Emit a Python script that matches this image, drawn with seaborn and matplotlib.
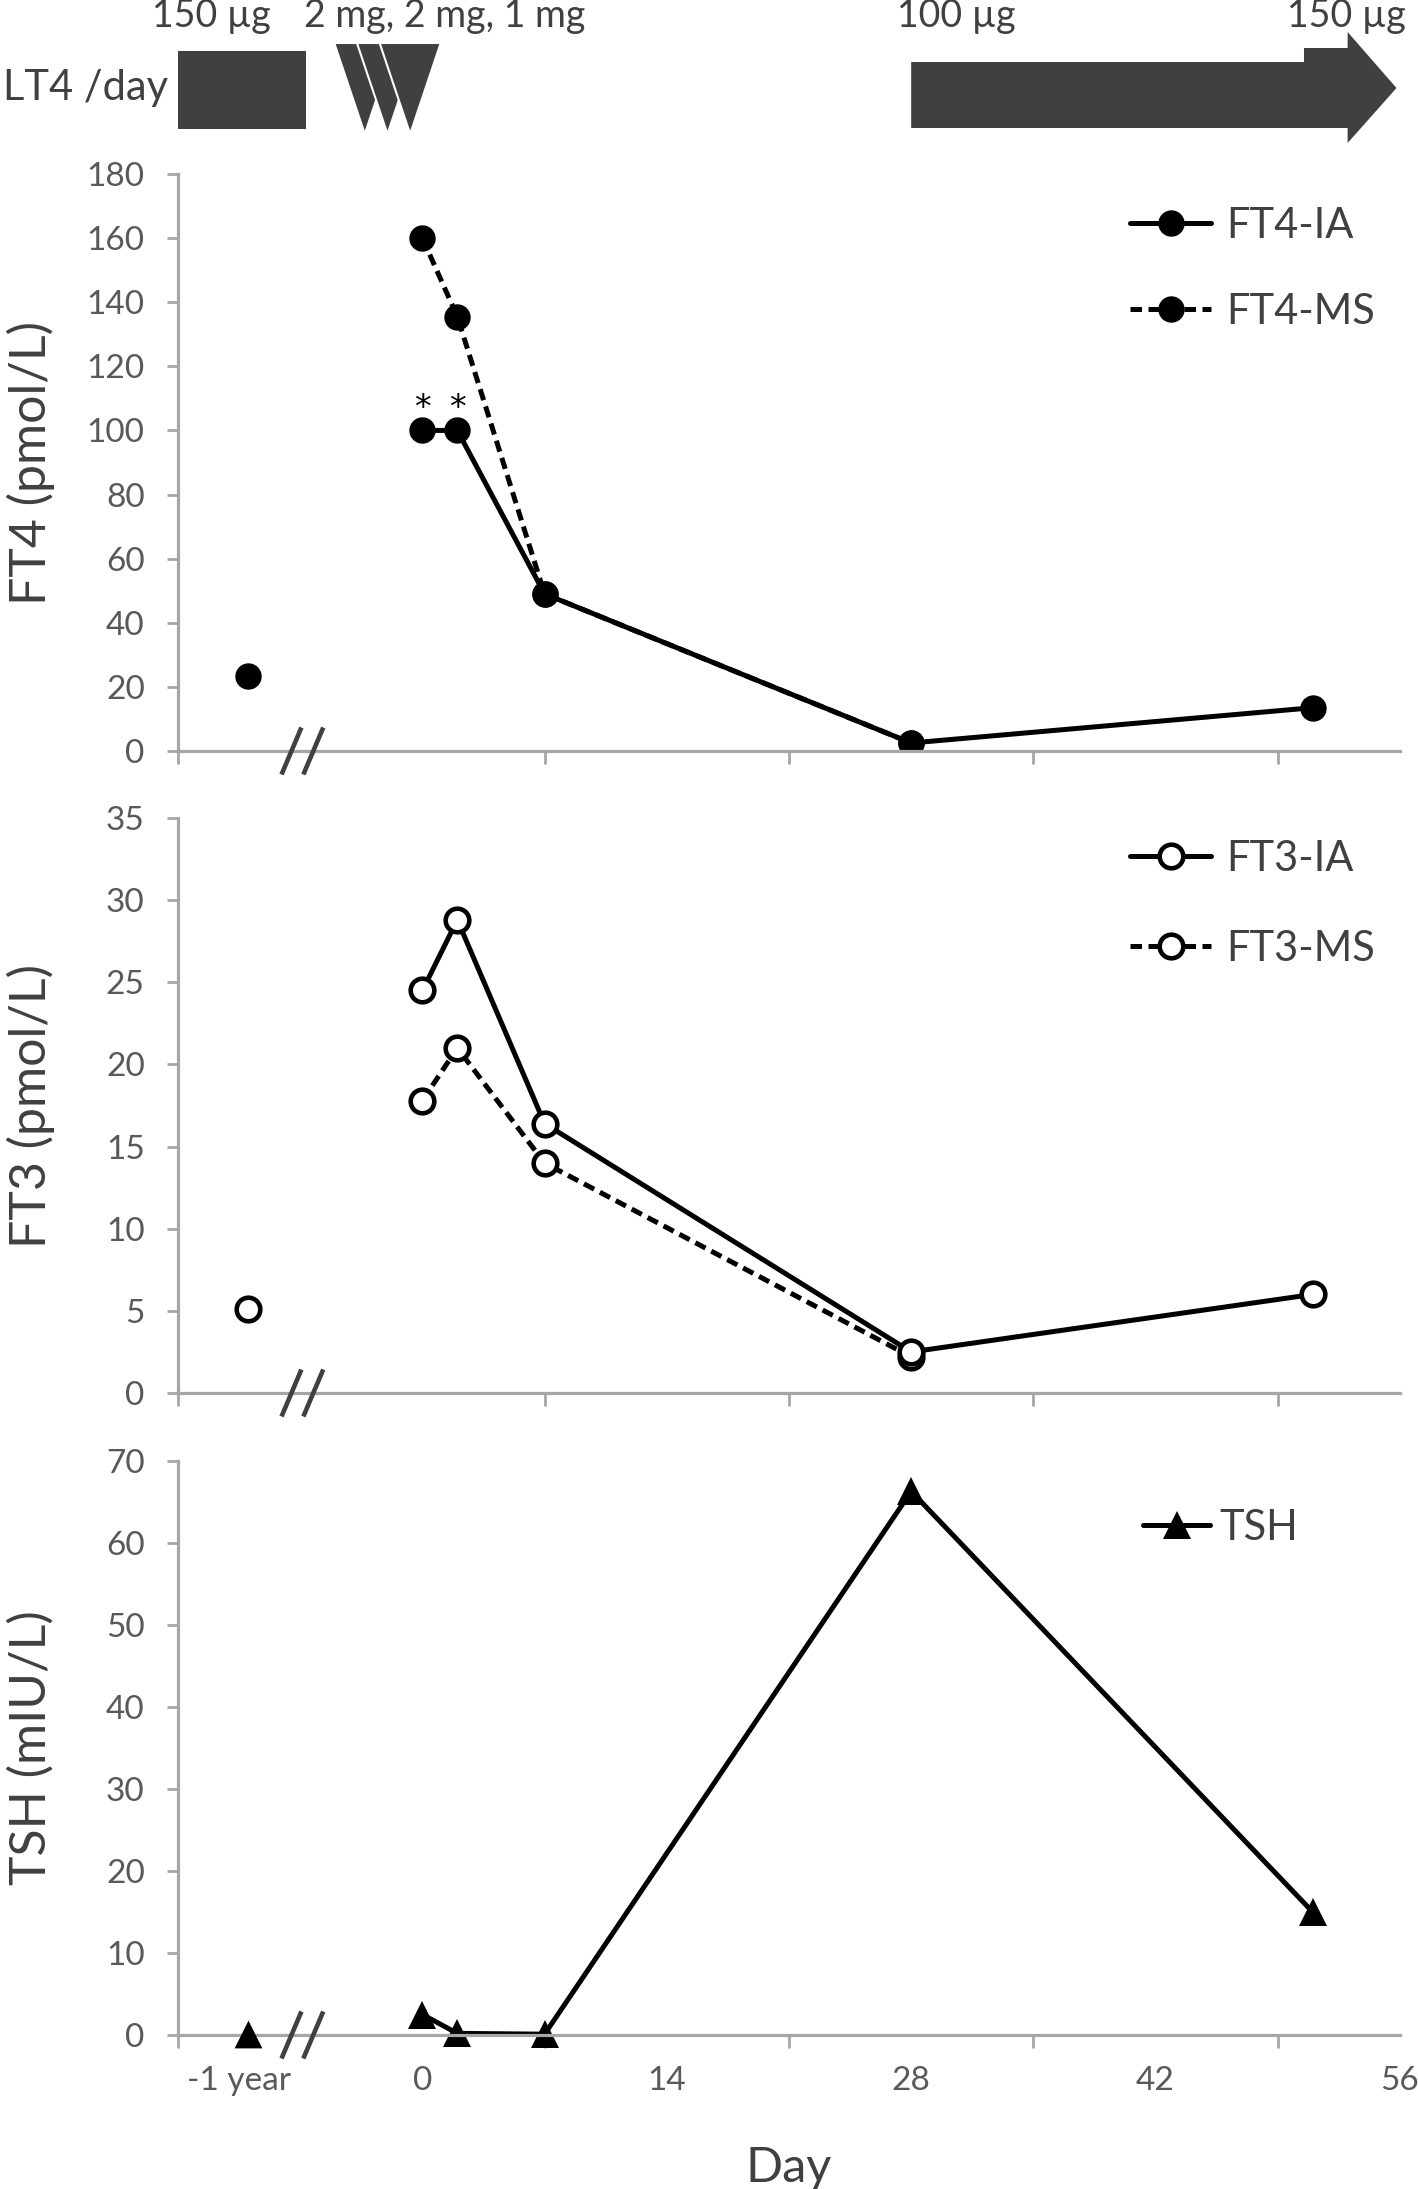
import numpy as np
import pandas as pd
import seaborn as sns
import matplotlib.pyplot as plt
import matplotlib.patches as mpatches
import matplotlib.transforms as mtransforms
from matplotlib.lines import Line2D

###########################
# data
###########################
days = [0, 2, 7, 28, 51]
days_ms = [0, 2, 7, 28]
prev_x = -10          # position of the "-1 year" sample

ft4_prev = 23.5
ft4_ia = [100, 100, 49, 2.5, 13.5]
ft4_ms = [160, 135.5, 49, 2.5]

ft3_prev = 5.1
ft3_ia = [24.5, 28.8, 16.4, 2.5, 6.0]
ft3_ms = [17.8, 21.0, 14.0, 2.2]

tsh_prev = 0.1
tsh = [2.5, 0.2, 0.1, 66.3, 15.0]

xtick_pos = [-10.5, 0, 14, 28, 42, 56]
xtick_labels = ["-1 year", "0", "14", "28", "42", "56"]
xminor_pos = [-14, 0, 7, 14, 21, 28, 35, 42, 49, 56]

dose_labels = ["150 µg", "2 mg, 2 mg, 1 mg", "100 µg", "150 µg"]
dose_label_x = [-12.1, 1.3, 30.6, 52.9]

###########################
# style
###########################
sns.set_style("white")
plt.rcParams["font.family"] = ["Lato", "DejaVu Sans"]

GRAY = "#A6A6A6"
TXT = "#404040"
TICK = "#595959"
DARK = "#404040"
LW = 3.6

fig = plt.figure(figsize=(14.18, 21.89), dpi=100)
W, H = 1418, 2189
AX_L, AX_R = 178, 1400


def axes_px(top, bottom, left=AX_L, right=AX_R):
    return fig.add_axes([left / W, 1 - bottom / H, (right - left) / W, (bottom - top) / H])


ax_ban = axes_px(0, 160)
ax4 = axes_px(174, 751)
ax3 = axes_px(818, 1393)
axt = axes_px(1461, 2035)

###########################
# panels
###########################
def style_axis(ax, ymax, ystep, show_labels):
    ax.set_xlim(-14, 56)
    ax.set_ylim(0, ymax)
    ax.set_yticks(np.arange(0, ymax + 0.1, ystep))
    for s in ["top", "right"]:
        ax.spines[s].set_visible(False)
    for s in ["left", "bottom"]:
        ax.spines[s].set_color(GRAY)
        ax.spines[s].set_linewidth(2.3)
    ax.tick_params(axis="y", direction="out", length=8, width=2, color=GRAY,
                   labelsize=24, labelcolor=TICK, pad=16, left=True)
    ax.set_xticks(xtick_pos)
    ax.set_xticks(xminor_pos, minor=True)
    ax.tick_params(axis="x", which="major", length=0, labelsize=24,
                   labelcolor=TICK, pad=22, bottom=True)
    ax.tick_params(axis="x", which="minor", direction="out", length=9.5,
                   width=2, color=GRAY, bottom=True)
    if show_labels:
        ax.set_xticklabels(xtick_labels)
    else:
        ax.set_xticklabels([])
    ax.set_xlabel("")


def add_break(ax, h_px):
    tr = mtransforms.blended_transform_factory(ax.transData, ax.transAxes)
    f = 23.5 / h_px
    for xc in (-7.5, -6.25):
        ax.plot([xc - 0.57, xc + 0.57], [-f, f], color=DARK, lw=3.3,
                transform=tr, clip_on=False, solid_capstyle="butt", zorder=5)


def add_legend(ax, handles, labels, top, spacing, hlen=1.95, hpad=0.35, x=0.779):
    ax.legend(handles, labels, loc="upper left", bbox_to_anchor=(x, top),
              frameon=False, fontsize=30, labelcolor=TXT, handlelength=hlen,
              handletextpad=hpad, labelspacing=spacing, borderpad=0, borderaxespad=0)


dash = (0, (2.3, 1.3))
MS_F = 19

# FT4
sns.lineplot(x=days_ms, y=ft4_ms, ax=ax4, color="black", lw=LW, linestyle=dash,
             marker="o", markersize=MS_F, markeredgewidth=0, errorbar=None)
sns.lineplot(x=days, y=ft4_ia, ax=ax4, color="black", lw=LW,
             marker="o", markersize=MS_F, markeredgewidth=0, errorbar=None)
sns.scatterplot(x=[prev_x], y=[ft4_prev], ax=ax4, color="black", s=MS_F ** 2,
                linewidth=0, zorder=4)
for xa in (0, 2):
    ax4.text(xa, 107, "*", ha="center", va="center", fontsize=24, color="black",
             family="DejaVu Sans")
style_axis(ax4, 180, 20, False)
ax4.set_ylabel("FT4 (pmol/L)", fontsize=36, color=TXT)
add_break(ax4, 577)
h4 = [Line2D([], [], color="black", lw=LW, marker="o", ms=MS_F, mew=0),
      Line2D([], [], color="black", lw=LW, ls=dash, marker="o", ms=MS_F, mew=0)]
add_legend(ax4, h4, ["FT4-IA", "FT4-MS"], 0.943, 1.15)

# FT3
ow = dict(marker="o", markersize=17, markerfacecolor="white",
          markeredgecolor="black", markeredgewidth=3.3)
sns.lineplot(x=days_ms, y=ft3_ms, ax=ax3, color="black", lw=LW, linestyle=dash,
             errorbar=None, **ow)
sns.lineplot(x=days, y=ft3_ia, ax=ax3, color="black", lw=LW, errorbar=None, **ow)
sns.scatterplot(x=[prev_x], y=[ft3_prev], ax=ax3, color="white", edgecolor="black",
                s=17 ** 2, linewidth=3.3, zorder=4)
style_axis(ax3, 35, 5, False)
ax3.set_ylabel("FT3 (pmol/L)", fontsize=36, color=TXT)
add_break(ax3, 575)
h3 = [Line2D([], [], color="black", lw=LW, **ow),
      Line2D([], [], color="black", lw=LW, ls=dash, **ow)]
add_legend(ax3, h3, ["FT3-IA", "FT3-MS"], 0.962, 1.25)

# TSH
sns.lineplot(x=days, y=tsh, ax=axt, color="black", lw=LW, marker="^",
             markersize=20, markeredgewidth=0, errorbar=None)
sns.scatterplot(x=[prev_x], y=[tsh_prev], ax=axt, color="black", marker="^",
                s=20 ** 2, linewidth=0, zorder=4, clip_on=False)
style_axis(axt, 70, 10, True)
axt.set_ylabel("TSH (mIU/L)", fontsize=36, color=TXT)
axt.set_xlabel("Day", fontsize=35, color=TXT, labelpad=36)
add_break(axt, 574)
for line in axt.lines:
    line.set_clip_on(False)
ht = [Line2D([], [], color="black", lw=LW, marker="^", ms=20, mew=0)]
add_legend(axt, ht, ["TSH"], 0.917, 1.0, hlen=1.6, hpad=0.23, x=0.790)

# y labels: right edge of the rotated text near x = 55 px
for a in (ax4, ax3, axt):
    a.yaxis.set_label_coords((55 - AX_L) / (AX_R - AX_L), 0.5)

###########################
# LT4 dose banner
###########################
ax_ban.set_xlim(-14, 56)
ax_ban.set_ylim(160, 0)
ax_ban.axis("off")
ax_ban.add_patch(mpatches.Rectangle((-14, 51), 7.35, 78, facecolor=DARK,
                                    edgecolor="none"))
for apex in (-3.3, -2.0, -0.7):
    tri = [(apex - 1.75, 43), (apex + 1.75, 43), (apex, 134)]
    ax_ban.add_patch(mpatches.Polygon(tri, closed=True, facecolor=DARK,
                                      edgecolor="white", lw=1.5))
arrow = [(28, 62), (50.5, 62), (50.5, 48), (53, 48), (53, 32), (55.8, 88),
         (53, 143), (53, 128), (28, 128)]
ax_ban.add_patch(mpatches.Polygon(arrow, closed=True, facecolor=DARK,
                                  edgecolor="none"))
for lab, xx in zip(dose_labels, dose_label_x):
    ax_ban.text(xx, 27, lab, ha="center", va="baseline", fontsize=27, color=TXT)
fig.text(3 / W, 1 - 88 / H, "LT4 /day", ha="left", va="center",
         fontsize=30, color=TXT)

fig.savefig("out.png", dpi=100)
